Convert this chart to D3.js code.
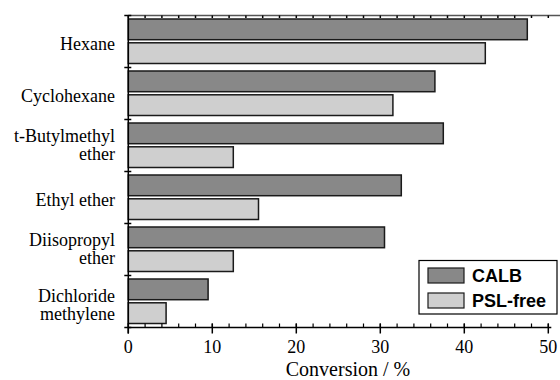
<!DOCTYPE html>
<html>
<head>
<meta charset="utf-8">
<script src="https://cdn.jsdelivr.net/npm/d3@7"></script>
<style>
  body { margin: 0; background: #fff; }
  svg { display: block; }
</style>
</head>
<body>
<div id="chart"></div>
<script>
// data
var solvents = [["Hexane"], ["Cyclohexane"], ["t-Butylmethyl", "ether"], ["Ethyl ether"],
    ["Diisopropyl", "ether"], ["Dichloride", "methylene"]];
var series = ["CALB", "PSL-free"];
var calb = [47.5, 36.5, 37.5, 32.5, 30.5, 9.5];
var pslFree = [42.5, 31.5, 12.5, 15.5, 12.5, 4.5];
var xTicks = [0, 10, 20, 30, 40, 50];

var width = 560, height = 380;
// note: "top" is taken by window.top, so plot edges get their own names
var pLeft = 128.3, pRight = 548.3, pTop = 15.5, pBottom = 327.5;

var svg = d3.select("#chart").append("svg")
    .attr("width", width)
    .attr("height", height);

var x = d3.scaleLinear()
    .domain([0, 50])
    .range([pLeft, pRight]);

var y = d3.scaleBand()
    .domain(d3.range(solvents.length))
    .range([pTop, pBottom]);

var ySub = d3.scaleBand()
    .domain(series)
    .range([3.5, 48])
    .paddingInner(0.13);

var color = d3.scaleOrdinal()
    .domain(series)
    .range(["#888888", "#cfcfcf"]);

var rows = solvents.map(function (s, i) {
    return { i: i, name: s, values: [calb[i], pslFree[i]] };
});

// bars
var groups = svg.append("g")
    .selectAll("g")
    .data(rows)
    .enter()
    .append("g")
    .attr("transform", function (d) { return "translate(0," + y(d.i) + ")"; });

groups.selectAll("rect")
    .data(function (d) { return series.map(function (s, k) { return { s: s, v: d.values[k] }; }); })
    .enter()
    .append("rect")
    .attr("x", x(0))
    .attr("y", function (d) { return ySub(d.s); })
    .attr("width", function (d) { return x(d.v) - x(0); })
    .attr("height", ySub.bandwidth())
    .style("fill", function (d) { return color(d.s); })
    .style("stroke", "#1a1a1a")
    .style("stroke-width", 1.5);

// top frame line with small ticks
svg.append("line")
    .attr("x1", pLeft).attr("x2", width)
    .attr("y1", pTop).attr("y2", pTop)
    .attr("stroke", "#555").attr("stroke-width", 1.5);

var minor = d3.range(0, 51, 2);
svg.append("g")
    .selectAll("line")
    .data(minor)
    .enter()
    .append("line")
    .attr("x1", function (d) { return x(d); })
    .attr("x2", function (d) { return x(d); })
    .attr("y1", pTop)
    .attr("y2", pTop + 2.5)
    .attr("stroke", "#000").attr("stroke-width", 1.5);

// bottom axis
var xAxis = svg.append("g")
    .attr("transform", "translate(0," + pBottom + ")");

xAxis.append("line")
    .attr("x1", pLeft).attr("x2", pRight + 3)
    .attr("stroke", "#000").attr("stroke-width", 1.5);

xAxis.selectAll(".minor")
    .data(minor)
    .enter()
    .append("line")
    .attr("class", "minor")
    .attr("x1", function (d) { return x(d); })
    .attr("x2", function (d) { return x(d); })
    .attr("y1", -4).attr("y2", 0)
    .attr("stroke", "#000").attr("stroke-width", 1.2);

xAxis.selectAll(".major")
    .data(xTicks)
    .enter()
    .append("line")
    .attr("class", "major")
    .attr("x1", function (d) { return x(d); })
    .attr("x2", function (d) { return x(d); })
    .attr("y1", -4).attr("y2", 6)
    .attr("stroke", "#000").attr("stroke-width", 1.5);

xAxis.selectAll("text")
    .data(xTicks)
    .enter()
    .append("text")
    .attr("x", function (d) { return x(d); })
    .attr("y", 25.5)
    .attr("text-anchor", "middle")
    .style("font-family", "Liberation Serif")
    .style("font-size", "18px")
    .text(function (d) { return d; });

svg.append("text")
    .attr("x", 348)
    .attr("y", 376)
    .attr("text-anchor", "middle")
    .style("font-family", "Liberation Serif")
    .style("font-size", "20px")
    .text("Conversion / %");

// left axis
svg.append("line")
    .attr("x1", pLeft).attr("x2", pLeft)
    .attr("y1", pTop).attr("y2", pBottom + 6)
    .attr("stroke", "#000").attr("stroke-width", 1.5);

svg.append("g")
    .selectAll("line")
    .data(d3.range(solvents.length + 1))
    .enter()
    .append("line")
    .attr("x1", pLeft - 4)
    .attr("x2", pLeft + 3)
    .attr("y1", function (d) { return pTop + d * y.step(); })
    .attr("y2", function (d) { return pTop + d * y.step(); })
    .attr("stroke", "#000").attr("stroke-width", 1.5);

var labels = svg.append("g")
    .selectAll("text")
    .data(rows)
    .enter()
    .append("text")
    .attr("text-anchor", "end")
    .style("font-family", "Liberation Serif")
    .style("font-size", "18px");

labels.each(function (d) {
    var c = y(d.i) + y.bandwidth() / 2;
    var t = d3.select(this);
    if (d.name.length == 1) {
        t.append("tspan").attr("x", 115).attr("y", c + 8).text(d.name[0]);
    } else {
        var shift = d.i == solvents.length - 1 ? 4 : 0;
        t.append("tspan").attr("x", 115).attr("y", c - 4 + shift).text(d.name[0]);
        t.append("tspan").attr("x", 115).attr("y", c + 14.5 + shift).text(d.name[1]);
    }
});

// legend
var legend = svg.append("g");
legend.append("rect")
    .attr("x", 419).attr("y", 260.5)
    .attr("width", 138).attr("height", 53.5)
    .style("fill", "#fff")
    .style("stroke", "#000")
    .style("stroke-width", 1.2);

legend.selectAll(".sw")
    .data(series)
    .enter()
    .append("rect")
    .attr("class", "sw")
    .attr("x", 428)
    .attr("y", function (d, i) { return 268 + i * 25; })
    .attr("width", 36)
    .attr("height", 15)
    .style("fill", function (d) { return color(d); })
    .style("stroke", "#1a1a1a")
    .style("stroke-width", 1.2);

legend.selectAll(".lab")
    .data(series)
    .enter()
    .append("text")
    .attr("class", "lab")
    .attr("x", 472)
    .attr("y", function (d, i) { return 282 + i * 25; })
    .style("font-family", "Liberation Sans")
    .style("font-weight", "bold")
    .style("font-size", "18px")
    .text(function (d) { return d; });
</script>
</body>
</html>
